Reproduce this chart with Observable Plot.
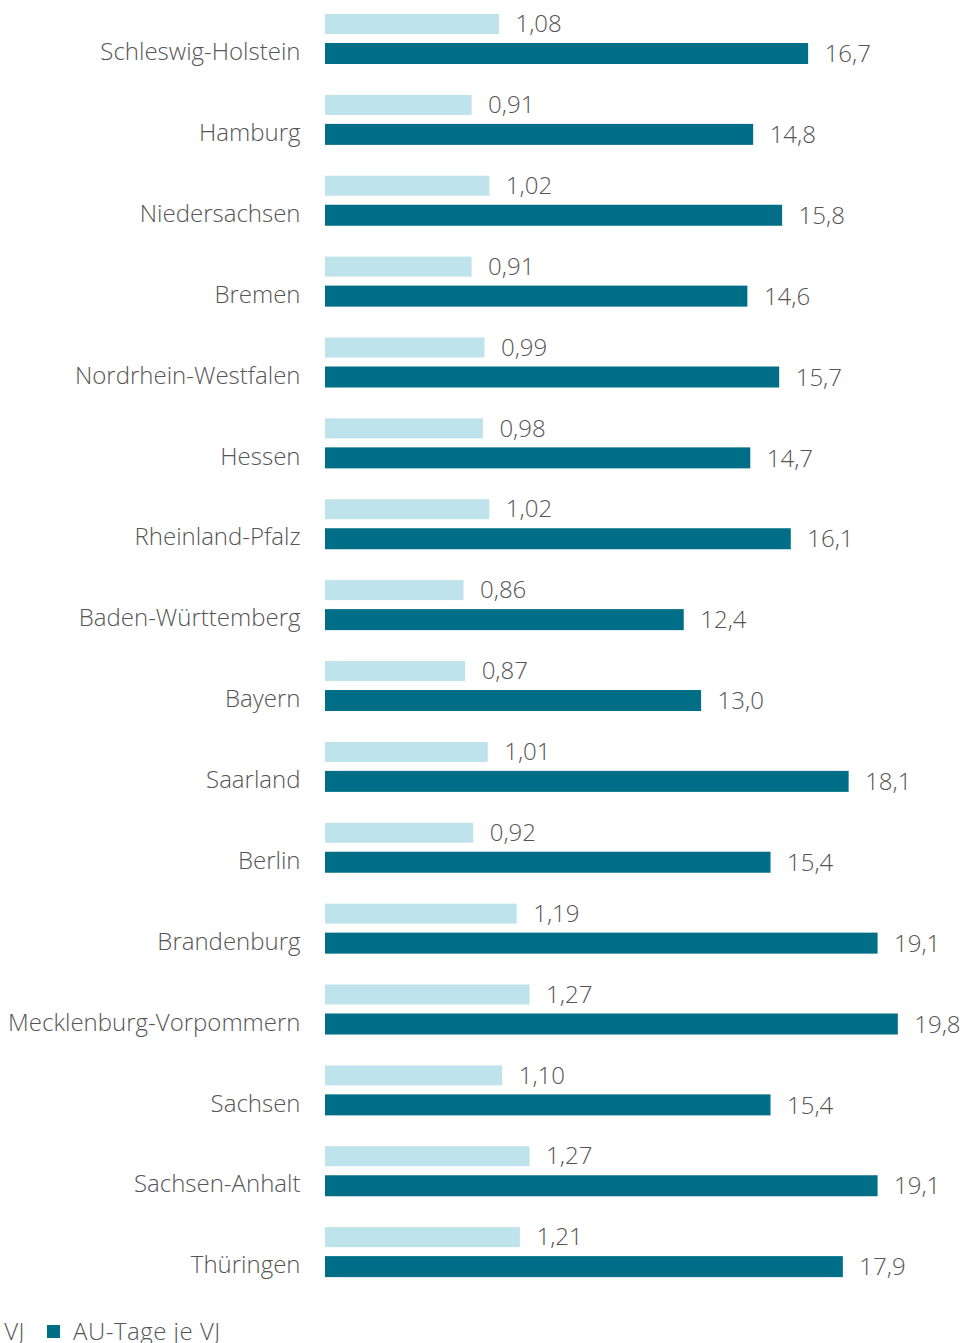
<!DOCTYPE html>
<html>
<head>
<meta charset="utf-8">
<script src="https://cdn.jsdelivr.net/npm/d3@7"></script>
<script src="https://cdn.jsdelivr.net/npm/@observablehq/plot@0.6"></script>
<style>
  html, body { margin: 0; padding: 0; background: #fff; overflow: hidden; }
  body { width: 965px; height: 1343px; position: relative; font-family: "Open Sans", sans-serif; font-weight: 300; color: #555; }
  #chart { position: absolute; left: 0; top: 0; }
  .item { position: absolute; top: 1315px; white-space: nowrap; font-size: 24px; line-height: 32px; letter-spacing: 0.5px; display: inline-flex; align-items: center; }
  .item.first { right: 940px; }
  .item.second { left: 47px; }
  .sw { display: inline-block; width: 13px; height: 13px; margin-right: 13px; }
</style>
</head>
<body>
<div id="chart"></div>
<div id="legend"></div>
<script>
const states = ["Schleswig-Holstein","Hamburg","Niedersachsen","Bremen","Nordrhein-Westfalen","Hessen","Rheinland-Pfalz","Baden-Württemberg","Bayern","Saarland","Berlin","Brandenburg","Mecklenburg-Vorpommern","Sachsen","Sachsen-Anhalt","Thüringen"];
const auFaelle = [1.08,0.91,1.02,0.91,0.99,0.98,1.02,0.86,0.87,1.01,0.92,1.19,1.27,1.10,1.27,1.21];
const auTage = [16.7,14.8,15.8,14.6,15.7,14.7,16.1,12.4,13.0,18.1,15.4,19.1,19.8,15.4,19.1,17.9];
const seriesNames = ["AU-Fälle je VJ","AU-Tage je VJ"];
const colors = ["#bee3ea","#006e87"];

// light bars are drawn on their own visual scale relative to the dark bars
const faelleFactor = 161.1 / 28.93;

const rows = states.map((s, i) => ({state: s, faelle: auFaelle[i], tage: auTage[i]}));
const fmt = (v, d) => v.toFixed(d).replace(".", ",");

const pitch = 1294 / states.length;

const chart = Plot.plot({
  width: 965,
  height: 1294,
  marginLeft: 325,
  marginRight: 0,
  marginTop: 0,
  marginBottom: 0,
  style: {fontFamily: "'Open Sans', sans-serif", fontWeight: 300, fontSize: "24px", color: "#555", overflow: "visible"},
  x: {domain: [0, 640 / 28.93], axis: null},
  y: {domain: states, padding: 0, round: false, axis: null},
  marks: [
    Plot.barX(rows, {y: "state", x1: 0, x2: d => d.faelle * faelleFactor, fill: colors[0], insetTop: 14, insetBottom: pitch - 34}),
    Plot.barX(rows, {y: "state", x1: 0, x2: "tage", fill: colors[1], insetTop: 43, insetBottom: pitch - 64}),
    Plot.text(rows, {y: "state", x: d => d.faelle * faelleFactor, text: d => fmt(d.faelle, 2), textAnchor: "start", dx: 16, dy: 24 - pitch / 2, fill: "#555", fontSize: 24}),
    Plot.text(rows, {y: "state", x: "tage", text: d => fmt(d.tage, 1), textAnchor: "start", dx: 16, dy: 54 - pitch / 2, fill: "#555", fontSize: 24}),
    Plot.text(rows, {y: "state", x: 0, text: "state", textAnchor: "end", dx: -25, dy: 52 - pitch / 2, fill: "#555", fontSize: 24})
  ]
});
document.getElementById("chart").appendChild(chart);

const legend = document.getElementById("legend");
seriesNames.forEach((n, i) => {
  const it = document.createElement("span");
  it.className = "item " + (i === 0 ? "first" : "second");
  it.innerHTML = `<span class="sw" style="background:${colors[i]}"></span><span>${n}</span>`;
  legend.appendChild(it);
});
</script>
</body>
</html>
